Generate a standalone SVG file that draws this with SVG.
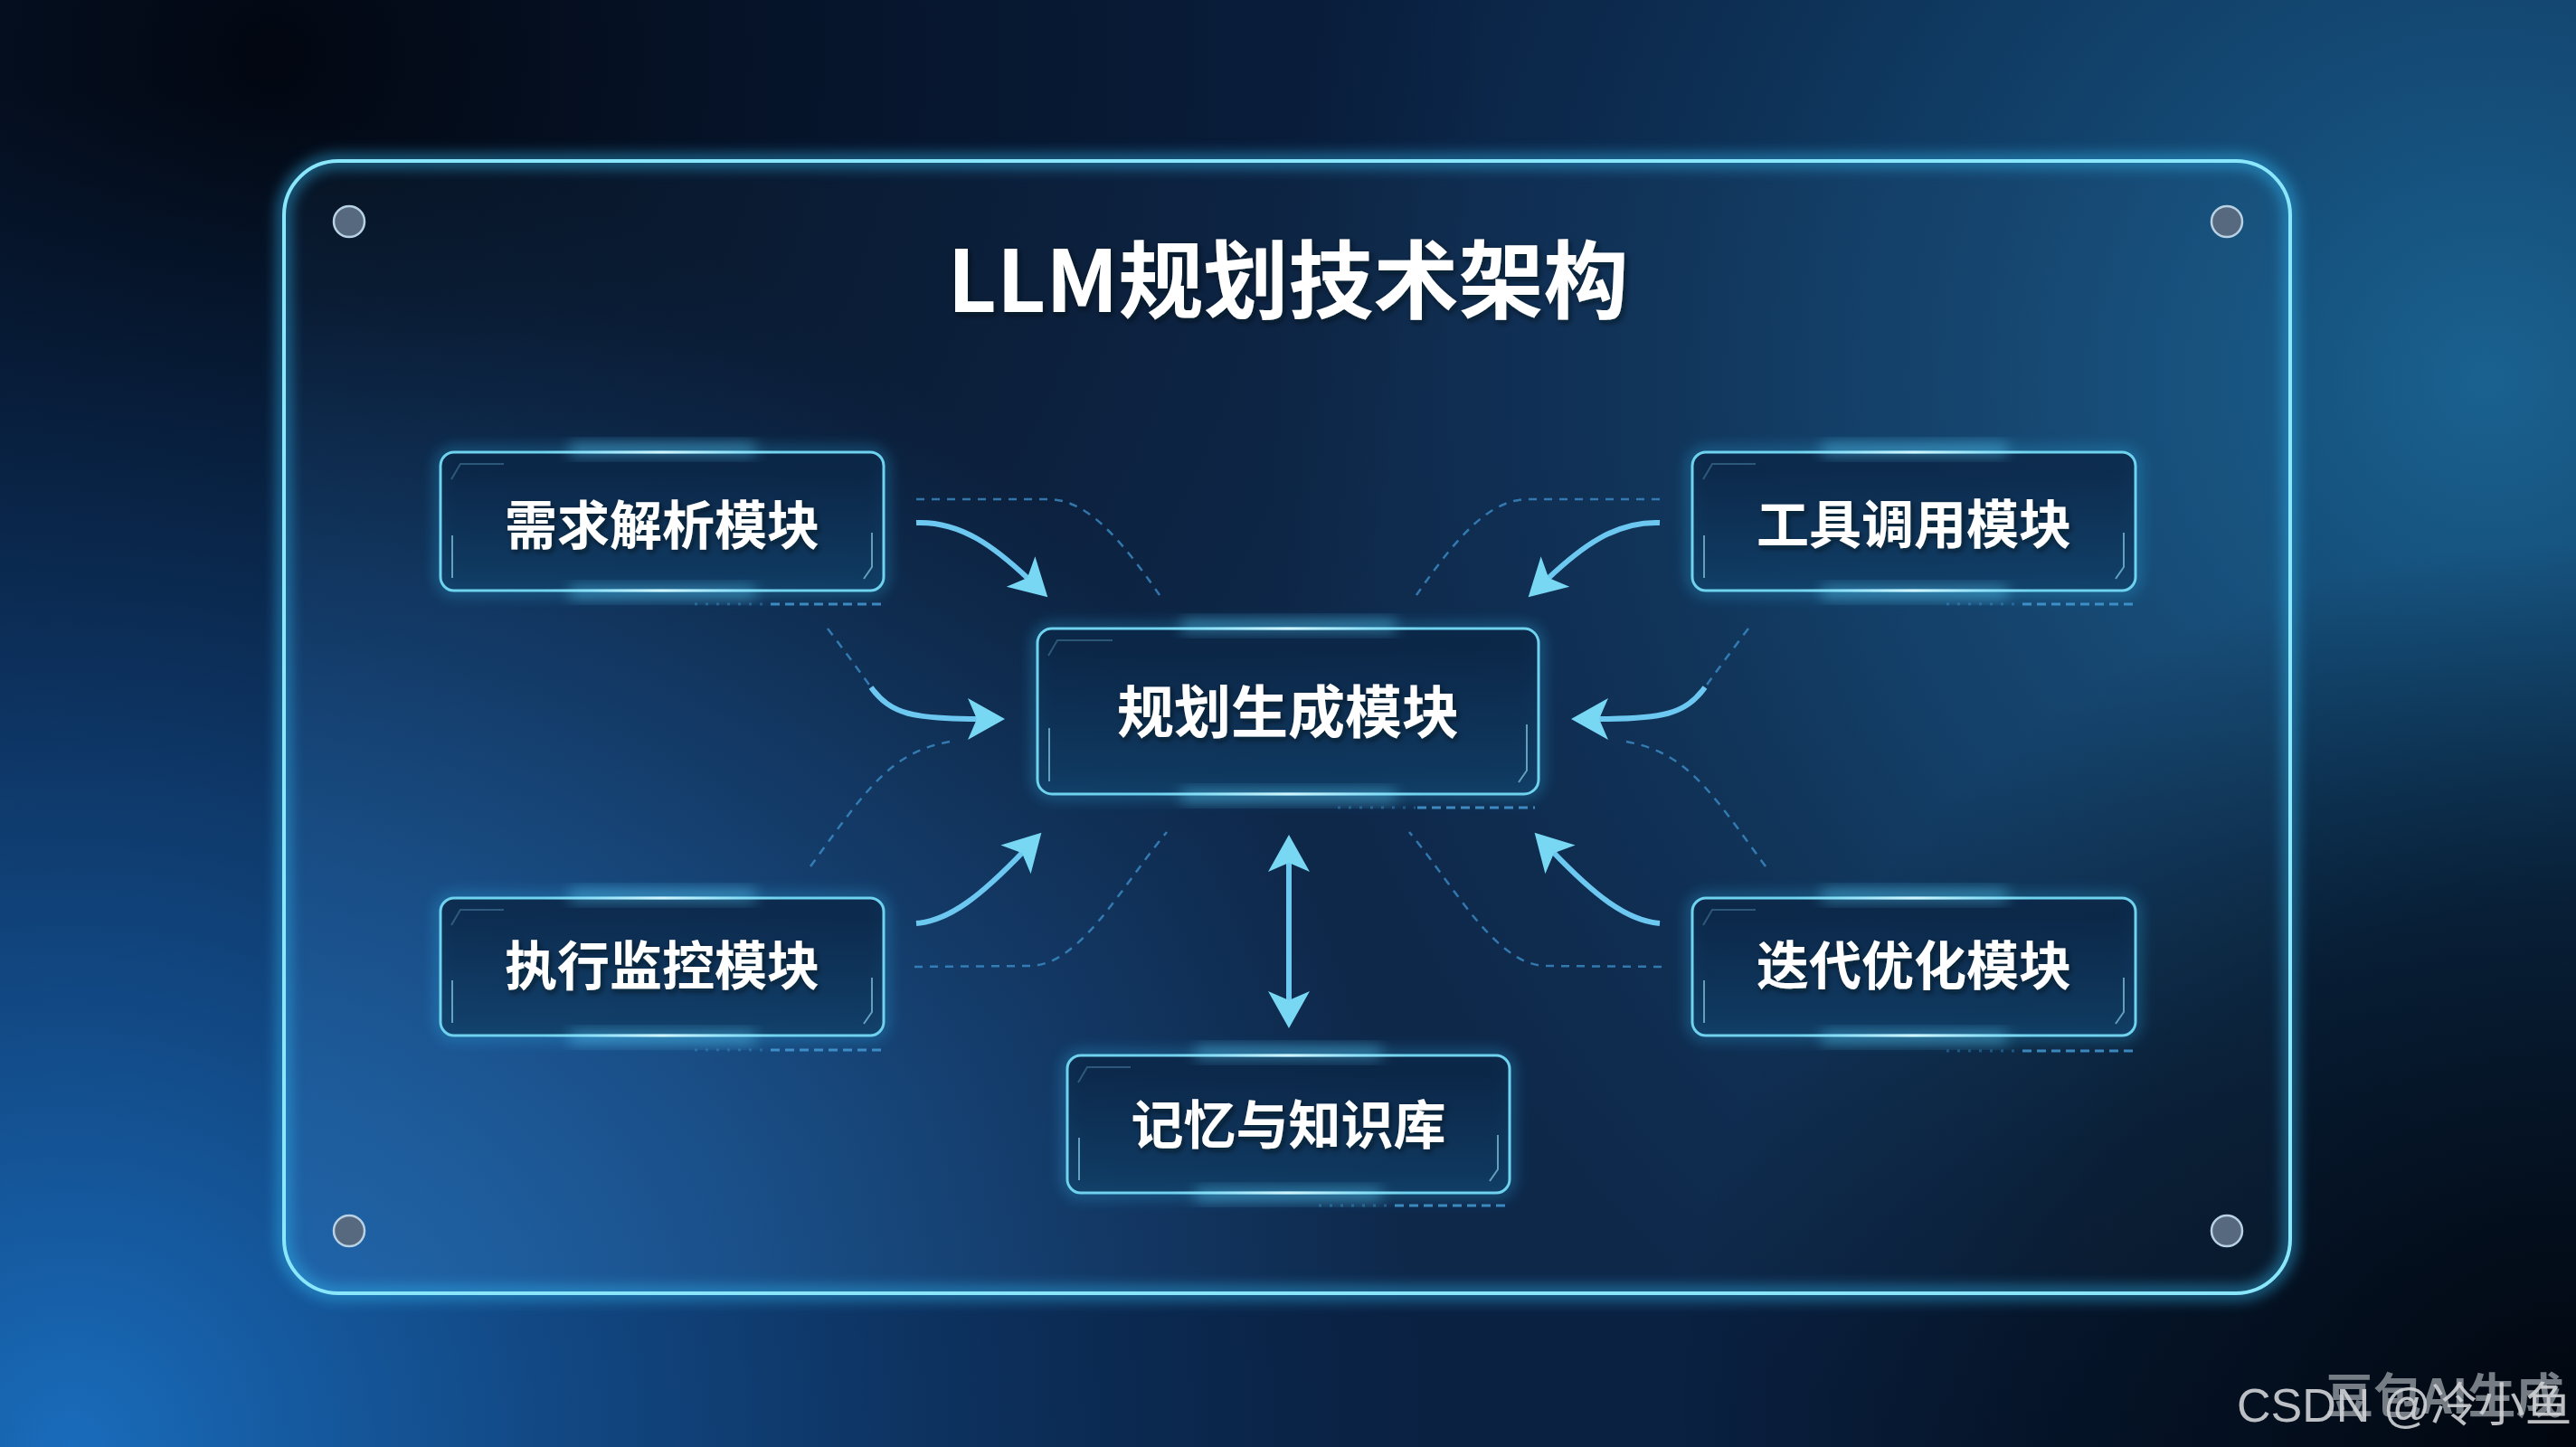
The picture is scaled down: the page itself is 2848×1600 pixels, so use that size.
<svg xmlns="http://www.w3.org/2000/svg" width="2848" height="1600" viewBox="0 0 2848 1600">
  <defs>
    <radialGradient id="bgDarkTL" cx="300" cy="60" r="1350" gradientUnits="userSpaceOnUse">
      <stop offset="0" stop-color="#02060f" stop-opacity="0.95"/>
      <stop offset="0.5" stop-color="#030a18" stop-opacity="0.5"/>
      <stop offset="1" stop-color="#02060f" stop-opacity="0"/>
    </radialGradient>
    <radialGradient id="bgBlueBL" cx="80" cy="1600" r="1500" gradientUnits="userSpaceOnUse">
      <stop offset="0" stop-color="#1a70c2" stop-opacity="0.95"/>
      <stop offset="0.5" stop-color="#1558a0" stop-opacity="0.5"/>
      <stop offset="1" stop-color="#0c3a70" stop-opacity="0"/>
    </radialGradient>
    <radialGradient id="bgTealTR" cx="2750" cy="420" r="1350" gradientUnits="userSpaceOnUse">
      <stop offset="0" stop-color="#1d6d9e" stop-opacity="0.85"/>
      <stop offset="0.55" stop-color="#175a8a" stop-opacity="0.4"/>
      <stop offset="1" stop-color="#123f66" stop-opacity="0"/>
    </radialGradient>
    <radialGradient id="bgDarkBR" cx="2848" cy="1600" r="1000" gradientUnits="userSpaceOnUse">
      <stop offset="0" stop-color="#01050c" stop-opacity="0.97"/>
      <stop offset="0.6" stop-color="#020a16" stop-opacity="0.6"/>
      <stop offset="1" stop-color="#020a16" stop-opacity="0"/>
    </radialGradient>
    <radialGradient id="panelBlue" cx="450" cy="1420" r="1100" gradientUnits="userSpaceOnUse">
      <stop offset="0" stop-color="#2a72b8" stop-opacity="0.45"/>
      <stop offset="1" stop-color="#2a72b8" stop-opacity="0"/>
    </radialGradient>
    <linearGradient id="boxFill" x1="0" y1="0" x2="0" y2="1">
      <stop offset="0" stop-color="#0a2343" stop-opacity="0.85"/>
      <stop offset="1" stop-color="#103e66" stop-opacity="0.85"/>
    </linearGradient>
    <linearGradient id="hlGrad" x1="0" y1="0" x2="1" y2="0">
      <stop offset="0" stop-color="#bff4ff" stop-opacity="0"/>
      <stop offset="0.5" stop-color="#e6fcff" stop-opacity="0.85"/>
      <stop offset="1" stop-color="#bff4ff" stop-opacity="0"/>
    </linearGradient>
    <filter id="blur8" x="-20%" y="-50%" width="140%" height="200%">
      <feGaussianBlur stdDeviation="8"/>
    </filter>
    <filter id="txtShadow" x="-10%" y="-30%" width="120%" height="160%">
      <feDropShadow dx="2" dy="3" stdDeviation="3" flood-color="#000814" flood-opacity="0.6"/>
    </filter>
    <marker id="head" viewBox="-44 -26 48 52" refX="-28" refY="0" markerWidth="48" markerHeight="52" markerUnits="userSpaceOnUse" orient="auto-start-reverse">
      <path d="M0,0 L-41,-23 L-31,0 L-41,23 Z" fill="#78d8f4"/>
    </marker>
    <style>
      .box{fill:url(#boxFill);stroke:#6fd2ee;stroke-width:3}
      .halo{fill:none;stroke:#2fb4ea;stroke-width:10;opacity:.4;filter:url(#blur8)}
      .tick{stroke:#8fd8ef;stroke-width:2;fill:none;opacity:.65}
      .faint{stroke:#7cc6e4;stroke-width:2;fill:none;opacity:.3}
      .hl{fill:url(#hlGrad)}
      .hlglow{fill:#5fd6ff;opacity:.45;filter:url(#blur8)}
      .lbl{font-family:"Noto Sans CJK SC","Noto Sans",sans-serif;font-weight:700;fill:#ffffff;text-anchor:middle;dominant-baseline:central;filter:url(#txtShadow)}
      .dash{fill:none;stroke:#3f93cf;stroke-width:2.5;stroke-dasharray:9 8;opacity:.75}
      .udash-a{fill:none;stroke:#3f93cf;stroke-width:3;stroke-dasharray:3 9;opacity:.4}
      .udash-b{fill:none;stroke:#4a9fdb;stroke-width:3;stroke-dasharray:10 6;opacity:.8}
      .flow{fill:none;stroke:#6cc8f0;stroke-width:6;marker-end:url(#head)}
      .dot{fill:#56697f;stroke:#b8d2e4;stroke-width:2.5}
    </style>
  </defs>

  <!-- background -->
  <rect width="2848" height="1600" fill="#0a2142"/>
  <rect width="2848" height="1600" fill="url(#bgDarkTL)"/>
  <rect width="2848" height="1600" fill="url(#bgBlueBL)"/>
  <rect width="2848" height="1600" fill="url(#bgTealTR)"/>
  <rect width="2848" height="1600" fill="url(#bgDarkBR)"/>

  <!-- glass panel -->
  <g id="panel">
    <rect x="314" y="178" width="2218" height="1252" rx="60" fill="#5ab0e6" fill-opacity="0.05"/>
    <rect x="314" y="178" width="2218" height="1252" rx="60" fill="url(#panelBlue)"/>
    <rect x="314" y="178" width="2218" height="1252" rx="60" fill="none" stroke="#33b8f0" stroke-width="14" opacity="0.55" filter="url(#blur8)"/>
    <rect x="314" y="178" width="2218" height="1252" rx="60" fill="none" stroke="#8ae6fb" stroke-width="4"/>
    <circle cx="386" cy="245" r="17" class="dot"/>
    <circle cx="2462" cy="245" r="17" class="dot"/>
    <circle cx="386" cy="1361" r="17" class="dot"/>
    <circle cx="2462" cy="1361" r="17" class="dot"/>
  </g>

  <!-- title -->
  <text id="title" x="1424" y="304" class="lbl" font-size="94">LLM规划技术架构</text>

  <!-- connectors -->
  <g id="connectors">
    <!-- dashed guide curves -->
    <path class="dash" d="M1013,552 L1160,552 C1200,553 1235,590 1282,658"/>
    <path class="dash" d="M915,695 Q940,728 963,760"/>
    <path class="dash" d="M1050,820 C985,832 960,870 896,958"/>
    <path class="dash" d="M1011,1069 L1140,1068 C1195,1066 1240,980 1290,920"/>
    <path class="dash" d="M1835,552 L1688,552 C1648,553 1613,590 1566,658"/>
    <path class="dash" d="M1933,695 Q1908,728 1885,760"/>
    <path class="dash" d="M1798,820 C1863,832 1888,870 1952,958"/>
    <path class="dash" d="M1837,1069 L1708,1068 C1653,1066 1608,980 1558,920"/>

    <!-- dashed underlines -->
    <path class="udash-a" d="M768,668 H850"/><path class="udash-b" d="M852,668 H975"/>
    <path class="udash-a" d="M2152,668 H2234"/><path class="udash-b" d="M2236,668 H2358"/>
    <path class="udash-a" d="M1479,893 H1565"/><path class="udash-b" d="M1567,893 H1697"/>
    <path class="udash-a" d="M768,1161 H850"/><path class="udash-b" d="M852,1161 H975"/>
    <path class="udash-a" d="M2152,1162 H2234"/><path class="udash-b" d="M2236,1162 H2358"/>
    <path class="udash-a" d="M1458,1333 H1540"/><path class="udash-b" d="M1542,1333 H1665"/>

    <!-- solid flows into the planner -->
    <path class="flow" d="M1013,578 C1062,576 1100,605 1138,641"/>
    <path class="flow" d="M963,760 C985,790 1010,795 1083,795"/>
    <path class="flow" d="M1013,1021 C1050,1018 1085,990 1132,941"/>
    <path class="flow" d="M1835,578 C1786,576 1748,605 1710,641"/>
    <path class="flow" d="M1885,760 C1863,790 1838,795 1765,795"/>
    <path class="flow" d="M1835,1021 C1798,1018 1763,990 1716,941"/>

    <!-- planner <-> memory -->
    <path class="flow" d="M1425,951 L1425,1109" marker-start="url(#head)"/>
  </g>

  <!-- nodes -->
  <g id="node-parse">
    <rect x="487" y="500" width="490" height="153" rx="15" class="halo"/>
    <rect x="487" y="500" width="490" height="153" rx="15" class="box"/>
    <path class="faint" d="M499,530 L509,513 L557,513"/>
    <path class="tick" d="M500,592 L500,639"/>
    <path class="tick" d="M964,589 L964,627 L955,640"/>
    <rect x="630" y="490" width="205" height="14" class="hlglow"/>
    <rect x="600" y="498.5" width="264" height="3" class="hl"/>
    <rect x="630" y="648" width="205" height="14" class="hlglow"/>
    <rect x="600" y="651.5" width="264" height="3" class="hl"/>
    <text x="732" y="577" class="lbl" font-size="58">需求解析模块</text>
  </g>

  <g id="node-tools">
    <rect x="1871" y="500" width="490" height="153" rx="15" class="halo"/>
    <rect x="1871" y="500" width="490" height="153" rx="15" class="box"/>
    <path class="faint" d="M1883,530 L1893,513 L1941,513"/>
    <path class="tick" d="M1884,592 L1884,639"/>
    <path class="tick" d="M2348,589 L2348,627 L2339,640"/>
    <rect x="2014" y="490" width="205" height="14" class="hlglow"/>
    <rect x="1984" y="498.5" width="264" height="3" class="hl"/>
    <rect x="2014" y="648" width="205" height="14" class="hlglow"/>
    <rect x="1984" y="651.5" width="264" height="3" class="hl"/>
    <text x="2116" y="576" class="lbl" font-size="58">工具调用模块</text>
  </g>

  <g id="node-planner">
    <rect x="1147" y="695" width="554" height="183" rx="16" class="halo"/>
    <rect x="1147" y="695" width="554" height="183" rx="16" class="box"/>
    <path class="faint" d="M1159,725 L1169,708 L1230,708"/>
    <path class="tick" d="M1160,805 L1160,864"/>
    <path class="tick" d="M1688,801 L1688,852 L1679,865"/>
    <rect x="1306" y="685" width="237" height="14" class="hlglow"/>
    <rect x="1274" y="693.5" width="300" height="3" class="hl"/>
    <rect x="1306" y="873" width="237" height="14" class="hlglow"/>
    <rect x="1274" y="876.5" width="300" height="3" class="hl"/>
    <text x="1424" y="782" class="lbl" font-size="63">规划生成模块</text>
  </g>

  <g id="node-monitor">
    <rect x="487" y="993" width="490" height="152" rx="15" class="halo"/>
    <rect x="487" y="993" width="490" height="152" rx="15" class="box"/>
    <path class="faint" d="M499,1023 L509,1006 L557,1006"/>
    <path class="tick" d="M500,1084 L500,1131"/>
    <path class="tick" d="M964,1081 L964,1119 L955,1132"/>
    <rect x="630" y="983" width="205" height="14" class="hlglow"/>
    <rect x="600" y="991.5" width="264" height="3" class="hl"/>
    <rect x="630" y="1140" width="205" height="14" class="hlglow"/>
    <rect x="600" y="1143.5" width="264" height="3" class="hl"/>
    <text x="732" y="1064" class="lbl" font-size="58">执行监控模块</text>
  </g>

  <g id="node-iterate">
    <rect x="1871" y="993" width="490" height="152" rx="15" class="halo"/>
    <rect x="1871" y="993" width="490" height="152" rx="15" class="box"/>
    <path class="faint" d="M1883,1023 L1893,1006 L1941,1006"/>
    <path class="tick" d="M1884,1084 L1884,1131"/>
    <path class="tick" d="M2348,1081 L2348,1119 L2339,1132"/>
    <rect x="2014" y="983" width="205" height="14" class="hlglow"/>
    <rect x="1984" y="991.5" width="264" height="3" class="hl"/>
    <rect x="2014" y="1140" width="205" height="14" class="hlglow"/>
    <rect x="1984" y="1143.5" width="264" height="3" class="hl"/>
    <text x="2116" y="1064" class="lbl" font-size="58">迭代优化模块</text>
  </g>

  <g id="node-memory">
    <rect x="1180" y="1167" width="489" height="152" rx="15" class="halo"/>
    <rect x="1180" y="1167" width="489" height="152" rx="15" class="box"/>
    <path class="faint" d="M1192,1197 L1202,1180 L1250,1180"/>
    <path class="tick" d="M1193,1258 L1193,1305"/>
    <path class="tick" d="M1656,1255 L1656,1293 L1647,1306"/>
    <rect x="1322" y="1157" width="205" height="14" class="hlglow"/>
    <rect x="1292" y="1165.5" width="264" height="3" class="hl"/>
    <rect x="1322" y="1314" width="205" height="14" class="hlglow"/>
    <rect x="1292" y="1317.5" width="264" height="3" class="hl"/>
    <text x="1424.5" y="1240" class="lbl" font-size="58">记忆与知识库</text>
  </g>

  <!-- watermark -->
  <g id="watermark">
    <text x="2571" y="1563" font-family="'Noto Sans CJK SC','Noto Sans',sans-serif" font-weight="700" font-size="53" fill="#8a9198" fill-opacity="0.85">豆包AI生成</text>
    <text x="2473" y="1572" font-family="'Liberation Sans','Noto Sans CJK SC',sans-serif" font-size="52" fill="#d0d3d6" fill-opacity="0.9">CSDN @冷小鱼</text>
  </g>
</svg>
